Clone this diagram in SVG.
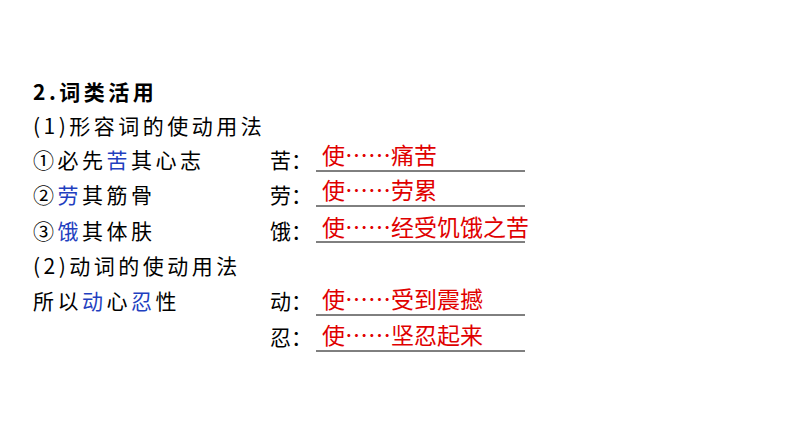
<svg xmlns="http://www.w3.org/2000/svg" width="794" height="447" viewBox="0 0 794 447">
<style>
text{font-family:"Noto Sans CJK SC","Noto Sans",sans-serif;font-size:21px;fill:#000}
.l{letter-spacing:3.5px}
.r{fill:#e00000;font-size:23px}
.b{fill:#1f3fbf}
.u{stroke:#000;stroke-width:1}
</style>
<rect width="794" height="447" fill="#fff"/>
<g id="left">
<text class="l" x="33" y="100" font-weight="bold">2.词类活用</text>
<text class="l" x="33" y="134">(1)形容词的使动用法</text>
<text class="l" x="33" y="168">①必先<tspan class="b">苦</tspan>其心志</text>
<text class="l" x="33" y="203">②<tspan class="b">劳</tspan>其筋骨</text>
<text class="l" x="33" y="239">③<tspan class="b">饿</tspan>其体肤</text>
<text class="l" x="33" y="274">(2)动词的使动用法</text>
<text class="l" x="33" y="309">所以<tspan class="b">动</tspan>心<tspan class="b">忍</tspan>性</text>
</g>
<g id="right">
<text x="270" y="168">苦：</text>
<text x="270" y="203">劳：</text>
<text x="270" y="239">饿：</text>
<text x="270" y="309">动：</text>
<text x="270" y="345">忍：</text>
<text class="r" x="322" y="164">使……痛苦</text>
<text class="r" x="322" y="199">使……劳累</text>
<text class="r" x="322" y="236">使……经受饥饿之苦</text>
<text class="r" x="322" y="308">使……受到震撼</text>
<text class="r" x="322" y="344">使……坚忍起来</text>
</g>
<g id="connectors">
<line class="u" x1="316" y1="171" x2="525" y2="171"/>
<line class="u" x1="316" y1="206" x2="525" y2="206"/>
<line class="u" x1="316" y1="242" x2="525" y2="242"/>
<line class="u" x1="316" y1="315" x2="525" y2="315"/>
<line class="u" x1="316" y1="351" x2="525" y2="351"/>
</g>
</svg>
